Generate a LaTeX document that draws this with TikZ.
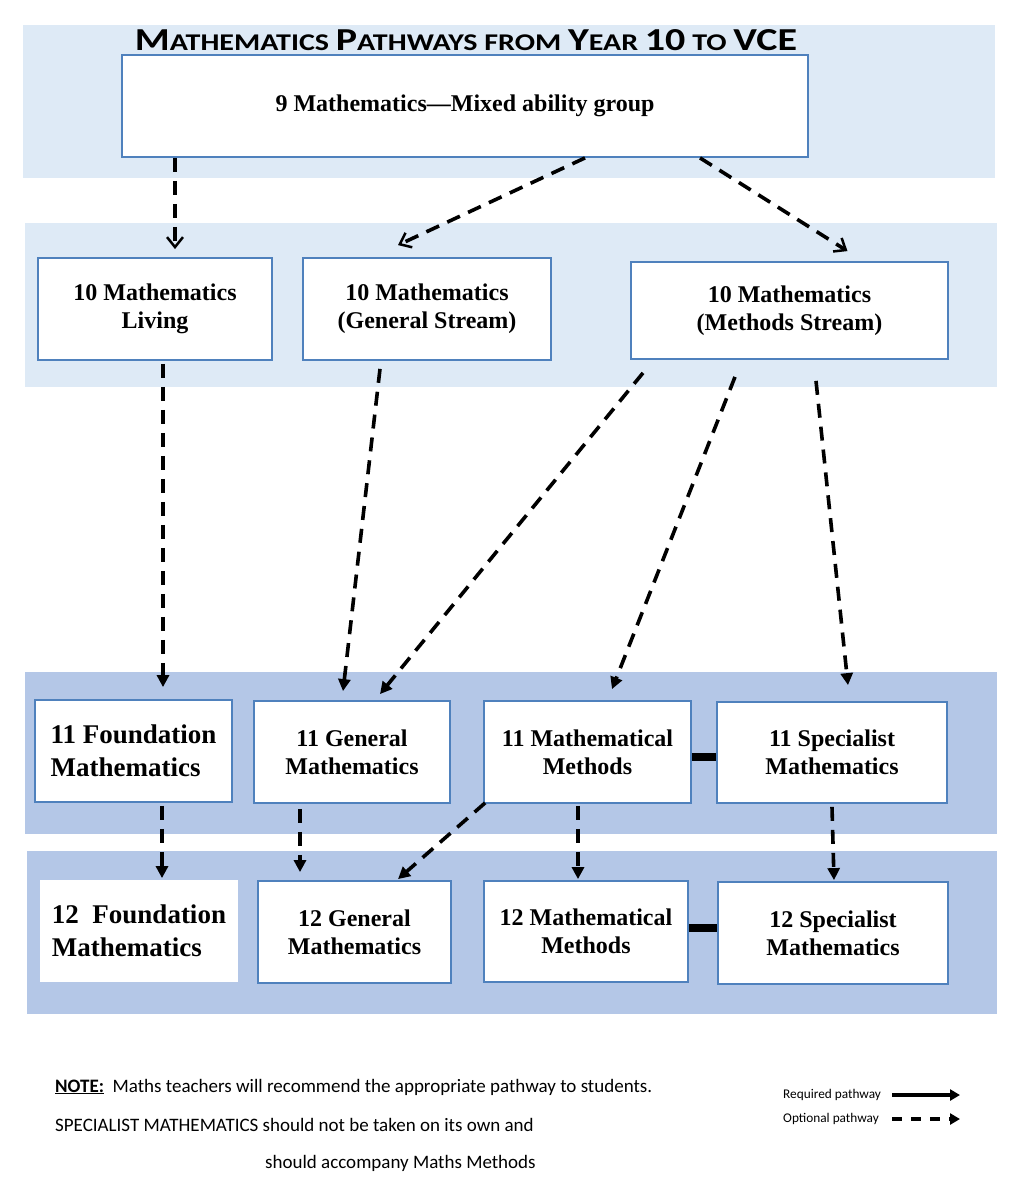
\documentclass[tikz,border=0pt]{standalone}
\usepackage{fontspec}
\setmainfont{Liberation Serif}
\newfontfamily\calfont{Carlito}
\usetikzlibrary{arrows.meta}

\definecolor{bandlight}{HTML}{DEEAF6}
\definecolor{banddark}{HTML}{B4C7E7}
\definecolor{boxline}{HTML}{4F81BD}
\newcommand{\tcap}[1]{{\fontsize{32}{32}\selectfont #1}}

\begin{document}
\begin{tikzpicture}[x=1pt, y=-1pt,
	course/.style={draw=boxline, line width=1.8pt, fill=white, align=center, inner sep=0pt,
		font=\fontsize{24}{28}\selectfont\bfseries},
	found/.style={course, align=left, font=\fontsize{27}{33}\selectfont\bfseries},
	optional/.style={line width=3.6pt, dash pattern=on 14pt off 9pt, -{Triangle[length=12pt,width=12pt]}},
	optopen/.style={optional, -{Straight Barb[length=10pt,width=16pt,line width=2.5pt]}},
	linked/.style={line width=8pt},
	notetext/.style={anchor=west, inner sep=0pt, font=\calfont\fontsize{19}{19}\selectfont},
	keytext/.style={anchor=west, inner sep=0pt, font=\calfont\fontsize{13.3}{13.3}\selectfont}
]
\useasboundingbox (0,0) rectangle (1031,1200);

% year bands
\fill[bandlight] (23,25) rectangle (995,178);
\fill[bandlight] (25,223) rectangle (997,387);
\fill[banddark] (25,672) rectangle (997,834);
\fill[banddark] (27,851) rectangle (997,1014);

\node[inner sep=0pt, font=\calfont\bfseries\fontsize{24}{24}\selectfont] (title) at (466,40)
	{\scalebox{1.25}[1]{\tcap{M}ATHEMATICS \tcap{P}ATHWAYS FROM \tcap{Y}EAR \tcap{10} TO \tcap{VCE}}};

% year 9
\node[course, minimum width=686pt, minimum height=102pt] (top) at (465,106) {9 Mathematics---Mixed ability group};

% year 10
\node[course, minimum width=234pt, minimum height=102pt] (living) at (155,309) {10 Mathematics\\Living};
\node[course, minimum width=248pt, minimum height=102pt] (genstr) at (427,309) {10 Mathematics\\(General Stream)};
\node[course, minimum width=317pt, minimum height=97pt] (methstr) at (789.5,310.5) {10 Mathematics\\(Methods Stream)};

% year 11
\node[found, minimum width=197pt, minimum height=102pt] (found11) at (133.5,751) {11 Foundation\\Mathematics};
\node[course, minimum width=196pt, minimum height=102pt] (gen11) at (352,752) {11 General\\Mathematics};
\node[course, minimum width=207pt, minimum height=102pt] (meth11) at (587.5,752) {11 Mathematical\\Methods};
\node[course, minimum width=230pt, minimum height=101pt] (spec11) at (832,752.5) {11 Specialist\\Mathematics};

% year 12
\node[found, minimum width=196pt, minimum height=100pt, draw=white] (found12) at (139,931) {12\ \ Foundation\\Mathematics};
\node[course, minimum width=193pt, minimum height=102pt] (gen12) at (354.5,932) {12 General\\Mathematics};
\node[course, minimum width=204pt, minimum height=101pt] (meth12) at (586,931.5) {12 Mathematical\\Methods};
\node[course, minimum width=230pt, minimum height=102pt] (spec12) at (833,933) {12 Specialist\\Mathematics};

% pathways
\draw[optopen] ([xshift=-290pt]top.south) -- ([xshift=20pt,yshift=8pt]living.north);
\draw[optopen] ([xshift=120pt]top.south) -- ([xshift=-29pt,yshift=12pt]genstr.north);
\draw[optopen] ([xshift=235pt]top.south) -- ([xshift=58pt,yshift=10pt]methstr.north);

\draw[optional] ([xshift=8pt,yshift=-3pt]living.south) -- ([xshift=29.5pt,yshift=12pt]found11.north);
\draw[optional] ([xshift=-47pt,yshift=-8pt]genstr.south) -- ([xshift=-9pt,yshift=9pt]gen11.north);
\draw[optional] ([xshift=-146.5pt,yshift=-13pt]methstr.south) -- ([xshift=28pt,yshift=6pt]gen11.north);
\draw[optional] ([xshift=-54.5pt,yshift=-17pt]methstr.south) -- ([xshift=24.5pt,yshift=11pt]meth11.north);
\draw[optional] ([xshift=26.5pt,yshift=-21pt]methstr.south) -- ([xshift=16pt,yshift=16pt]spec11.north);

\draw[optional] ([xshift=28.5pt,yshift=-3pt]found11.south) -- ([xshift=23pt,yshift=2pt]found12.north);
\draw[optional] ([xshift=-52pt,yshift=-5pt]gen11.south) -- ([xshift=-54.5pt,yshift=8pt]gen12.north);
\draw[optional] ([xshift=2pt,yshift=1pt]meth11.south west) -- ([xshift=43.5pt,yshift=1pt]gen12.north);
\draw[optional] ([xshift=-9.5pt,yshift=-2pt]meth11.south) -- ([xshift=-8pt,yshift=1pt]meth12.north);
\draw[optional] ([yshift=-3pt]spec11.south) -- ([xshift=1pt,yshift=1pt]spec12.north);

\draw[linked] ([yshift=-5pt]meth11.east) -- ([yshift=-5pt]meth11.east -| spec11.west);
\draw[linked] ([yshift=3.5pt]meth12.east) -- ([yshift=3.5pt]meth12.east -| spec12.west);

% notes
\node[notetext] (note1) at (55,1087) {\underline{\textbf{NOTE:}}\ \ Maths teachers will recommend the appropriate pathway to students.};
\node[notetext] (note2) at (55,1125) {SPECIALIST MATHEMATICS should not be taken on its own and};
\node[notetext] (note3) at (265,1163) {should accompany Maths Methods};

% key
\node[keytext] (req) at (783,1095) {Required pathway};
\node[keytext] (opt) at (783,1119) {Optional pathway};
\coordinate (reqend) at (960,1095);
\coordinate (optend) at (960,1119);
\draw[line width=3.5pt, -{Triangle[length=10pt,width=11pt]}] (req.east -| 892,0) -- (reqend);
\draw[line width=3.5pt, dash pattern=on 10pt off 9pt, -{Triangle[length=10pt,width=11pt]}] (opt.east -| 892,0) -- (optend);
\end{tikzpicture}
\end{document}
